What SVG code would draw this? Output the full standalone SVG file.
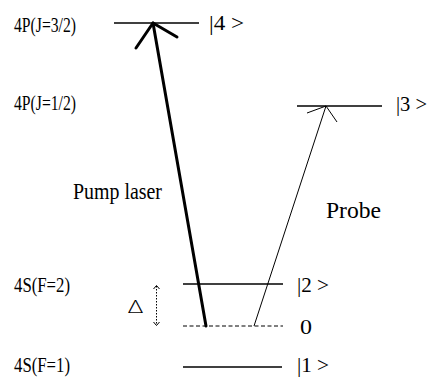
<svg xmlns="http://www.w3.org/2000/svg" width="428" height="378" viewBox="0 0 428 378">
<style>
.lvl{stroke:#000;stroke-width:1.5;fill:none}
.dash{stroke:#000;stroke-width:1;stroke-dasharray:4 2.5;fill:none}
.t{font-family:"Liberation Serif","Times New Roman",serif;fill:#000;font-size:22px}
.big{font-family:"Liberation Serif","Times New Roman",serif;fill:#000;font-size:24px}
.pump{stroke:#000;stroke-width:3;fill:none;stroke-linecap:round;stroke-linejoin:round}
.probe{stroke:#000;stroke-width:1;fill:none}
</style>
<rect width="428" height="378" fill="#fff"/>
<g id="level4">
<line class="lvl" x1="114" y1="23" x2="199" y2="23"/>
<text class="t" x="14" y="32" textLength="62" lengthAdjust="spacingAndGlyphs">4P(J=3/2)</text>
<text class="t" x="209" y="30" textLength="35" lengthAdjust="spacingAndGlyphs">|4 &gt;</text>
</g>
<g id="level3">
<line class="lvl" x1="297" y1="106" x2="382" y2="106"/>
<text class="t" x="14" y="110" textLength="62" lengthAdjust="spacingAndGlyphs">4P(J=1/2)</text>
<text class="t" x="396" y="111" textLength="31" lengthAdjust="spacingAndGlyphs">|3 &gt;</text>
</g>
<g id="level2">
<line class="lvl" x1="183" y1="284" x2="283" y2="284"/>
<text class="t" x="14" y="292" textLength="56" lengthAdjust="spacingAndGlyphs">4S(F=2)</text>
<text class="t" x="297" y="292" textLength="32" lengthAdjust="spacingAndGlyphs">|2 &gt;</text>
</g>
<g id="level0">
<line class="dash" x1="183" y1="326" x2="283" y2="326"/>
<text class="t" x="300" y="334" textLength="12" lengthAdjust="spacingAndGlyphs">0</text>
</g>
<g id="level1">
<line class="lvl" x1="183" y1="367" x2="282" y2="367"/>
<text class="t" x="14" y="372" font-size="21" textLength="56" lengthAdjust="spacingAndGlyphs">4S(F=1)</text>
<text class="t" x="297" y="372" font-size="21" textLength="32" lengthAdjust="spacingAndGlyphs">|1 &gt;</text>
</g>
<g id="detuning">
<text x="128" y="313" font-family="'Open Sans','Noto Sans',sans-serif" font-weight="300" font-size="19" textLength="15" lengthAdjust="spacingAndGlyphs">Δ</text>
<line x1="156.5" y1="286" x2="156.5" y2="325" stroke="#000" stroke-width="1" stroke-dasharray="1.5 1.5"/>
<polyline points="153.5,289 156.5,285.5 159.5,289" fill="none" stroke="#000" stroke-width="1"/>
<polyline points="153.5,322 156.5,325.5 159.5,322" fill="none" stroke="#000" stroke-width="1"/>
</g>
<g id="connectors">
<line class="pump" x1="206" y1="326" x2="153" y2="23"/>
<polyline class="pump" points="136,48 153,23 177,37"/>
<line class="probe" x1="254" y1="326" x2="326" y2="106"/>
<polyline class="probe" points="307,113 326,106 337,122"/>
<text class="big" x="73" y="199" textLength="89" lengthAdjust="spacingAndGlyphs">Pump laser</text>
<text class="big" x="326" y="218" font-size="27" textLength="55" lengthAdjust="spacingAndGlyphs">Probe</text>
</g>
</svg>
